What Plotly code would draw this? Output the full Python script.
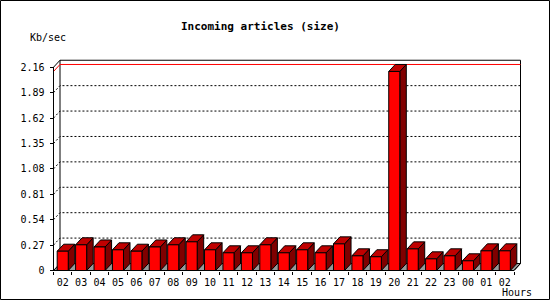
import plotly.graph_objects as go

# ---- data ----
hours = ["02", "03", "04", "05", "06", "07", "08", "09", "10", "11", "12", "13",
         "14", "15", "16", "17", "18", "19", "20", "21", "22", "23", "00", "01", "02"]
values = [0.205, 0.273, 0.250, 0.220, 0.205, 0.250, 0.273, 0.305, 0.220, 0.188,
          0.188, 0.273, 0.188, 0.220, 0.188, 0.283, 0.156, 0.146, 2.115, 0.230,
          0.124, 0.156, 0.103, 0.209, 0.209]
ytick_vals = [0, 0.27, 0.54, 0.81, 1.08, 1.35, 1.62, 1.89, 2.16]
ytick_text = ["0", "0.27", "0.54", "0.81", "1.08", "1.35", "1.62", "1.89", "2.16"]

# ---- layout geometry ----
W, H = 550, 300
ML, MR, MT, MB = 40, 20, 50, 20
PX_AXIS = 53.5        # pixel x of the front value axis
STEP = 18.42          # pixels per category
PY_ZERO = 270.5       # pixel y of value 0 (front)
PPU = 94.1            # pixels per value unit
XF = -0.5             # front axis in x units
XFR = len(values) - 0.5
DX = 6.5 / STEP       # depth offset (x units)
DY = 7.0 / PPU        # depth offset (value units)
HW = 0.3              # half width of a bar front face

px_left = ML
px_right = W - MR
x_range = [XF + (px_left - PX_AXIS) / STEP, XF + (px_right - PX_AXIS) / STEP]
y_range = [(PY_ZERO - (H - MB)) / PPU, (PY_ZERO - MT) / PPU]

FONT = "DejaVu Sans Mono"
fig = go.Figure()


def poly(xs, ys, fill, line="black", width=1, dash=None):
    fig.add_trace(go.Scatter(x=xs, y=ys, mode="lines",
                             fill="toself" if fill else None,
                             fillcolor=fill,
                             line=dict(color=line, width=width, dash=dash),
                             hoverinfo="skip", showlegend=False, cliponaxis=False))


top_v = ytick_vals[-1]
# floor
poly([XF, XFR, XFR + DX, XF + DX, XF], [0, 0, DY, DY, 0], "#999999")
# back wall frame
poly([XF + DX, XF + DX, XFR + DX, XFR + DX],
     [DY, top_v + DY, top_v + DY, DY], None)

# dotted gridlines
gx, gy = [], []
for v in ytick_vals[1:-1]:
    gx += [XF, XF + DX, XFR + DX, None]
    gy += [v, v + DY, v + DY, None]
poly(gx, gy, None, dash="2px,2px")

# max line (red)
vmax = max(values)
poly([XF, XF + DX, XFR + DX], [vmax, vmax + DY, vmax + DY], None, line="#ff0000")

# bars
sx, sy, tx, ty, fx, fy = [], [], [], [], [], []
for i, v in enumerate(values):
    sx += [i + HW, i + HW + DX, i + HW + DX, i + HW, i + HW, None]
    sy += [0, DY, v + DY, v, 0, None]
    tx += [i - HW, i + HW, i + HW + DX, i - HW + DX, i - HW, None]
    ty += [v, v, v + DY, v + DY, v, None]
    fx += [i - HW, i + HW, i + HW, i - HW, i - HW, None]
    fy += [0, 0, v, v, 0, None]
poly(sx, sy, "#800000")
poly(tx, ty, "#c00000")
poly(fx, fy, "#ff0000")

# front axis lines
poly([XFR + DX, XFR, XF, XF, XF + DX], [DY, 0, 0, top_v, top_v + DY], None)

fig.update_layout(
    width=W, height=H,
    margin=dict(l=ML, r=MR, t=MT, b=MB),
    paper_bgcolor="white", plot_bgcolor="white",
    font=dict(family=FONT, size=10, color="black"),
    xaxis=dict(range=x_range, anchor="free",
               position=(H - MB - PY_ZERO) / (H - MT - MB),
               tickvals=list(range(len(hours))), ticktext=hours,
               ticks="", showgrid=False, zeroline=False, showline=False,
               ticklabelstandoff=4,
               tickfont=dict(family=FONT, size=10),
               minor=dict(tickvals=[i - 0.5 for i in range(len(hours) + 1)],
                          ticks="outside", ticklen=3, tickcolor="black",
                          showgrid=False)),
    yaxis=dict(range=y_range, anchor="free",
               position=(PX_AXIS - ML) / (W - ML - MR),
               tickvals=ytick_vals, ticktext=ytick_text,
               ticks="outside", ticklen=4, tickcolor="black",
               showgrid=False, zeroline=False, showline=False,
               ticklabelstandoff=3,
               tickfont=dict(family=FONT, size=10)),
    annotations=[
        dict(text="<b>Incoming articles (size)</b>", xref="paper", yref="paper",
             x=(260.5 - ML) / (W - ML - MR), y=(H - MB - 27) / (H - MT - MB),
             xanchor="center", yanchor="middle", showarrow=False,
             font=dict(family=FONT, size=11)),
        dict(text="Kb/sec", xref="paper", yref="paper",
             x=(28 - ML) / (W - ML - MR), y=(H - MB - 37) / (H - MT - MB),
             xanchor="left", yanchor="middle", showarrow=False,
             font=dict(family=FONT, size=10)),
        dict(text="Hours", xref="paper", yref="paper",
             x=(534 - ML) / (W - ML - MR), y=(H - MB - 292) / (H - MT - MB),
             xanchor="right", yanchor="middle", showarrow=False,
             font=dict(family=FONT, size=10)),
    ],
    shapes=[dict(type="rect", xref="paper", yref="paper",
                 x0=(0.5 - ML) / (W - ML - MR), x1=(W - 0.5 - ML) / (W - ML - MR),
                 y0=(H - MB - (H - 0.5)) / (H - MT - MB), y1=(H - MB - 0.5) / (H - MT - MB),
                 line=dict(color="black", width=1))],
)

fig.write_html("out.html")
